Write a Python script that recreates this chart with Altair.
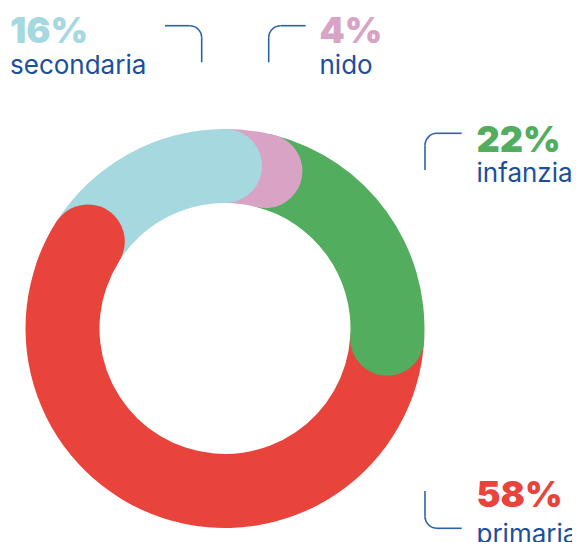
import math
import altair as alt
import pandas as pd

# ---- data ----
categories = ["nido", "infanzia", "primaria", "secondaria"]
values = [4, 22, 58, 16]
colors = ["#d9a3c6", "#52ad5e", "#e8443c", "#a6d8df"]

# ---- style / layout (chart pixel coords) ----
W, H = 564, 534
CX, CY = 217, 320.5
R_OUT, R_IN = 199.5, 125.5
CAP = (R_OUT - R_IN) / 2
EXT = math.asin(CAP / ((R_OUT + R_IN) / 2))
TEXT_BLUE = "#1b4f9c"
LINE_BLUE = "#2c62ad"

# angular extents from the data
total = sum(values)
starts, ends = [], []
acc = 0.0
for v in values:
    starts.append(acc / total * 2 * math.pi)
    acc += v
    ends.append(acc / total * 2 * math.pi)
idx = {c: i for i, c in enumerate(categories)}

# draw order: primaria, infanzia, nido, secondaria, then primaria end cap on top
pieces = []
for k, c in enumerate(["primaria", "infanzia", "nido", "secondaria"]):
    i = idx[c]
    pieces.append({"piece": k, "cat": c, "t0": starts[i] - EXT, "t1": ends[i] + EXT})
ip = idx["primaria"]
pieces.append({"piece": 4, "cat": "primaria", "t0": ends[ip] - 2 * EXT, "t1": ends[ip] + EXT})
arc_df = pd.DataFrame(pieces)

color_scale = alt.Scale(domain=categories, range=colors)

layers = []
for k in range(len(pieces)):
    layers.append(
        alt.Chart(arc_df)
        .transform_filter(alt.datum.piece == k)
        .mark_arc(outerRadius=R_OUT, innerRadius=R_IN, cornerRadius=CAP)
        .encode(
            theta=alt.Theta("t0:Q", scale=None),
            theta2="t1:Q",
            color=alt.Color("cat:N", scale=color_scale, legend=None),
            x=alt.value(CX),
            y=alt.value(CY),
        )
    )

# ---- labels ----
label_pos = {
    "secondaria": (2, 35.3, 66),
    "nido": (311.5, 35.3, 66),
    "infanzia": (468.5, 143.7, 174.3),
    "primaria": (468.5, 499.3, 535),
}
lab_df = pd.DataFrame(
    [
        {
            "cat": c,
            "pct": f"{v}%",
            "x": label_pos[c][0],
            "yp": label_pos[c][1],
            "yl": label_pos[c][2],
        }
        for c, v in zip(categories, values)
    ]
)

pct_text = (
    alt.Chart(lab_df)
    .mark_text(align="left", baseline="alphabetic", font="Inter", fontSize=36, fontWeight=900)
    .encode(
        x=alt.X("x:Q", scale=None),
        y=alt.Y("yp:Q", scale=None),
        text="pct:N",
        color=alt.Color("cat:N", scale=color_scale, legend=None),
    )
)
name_text = (
    alt.Chart(lab_df)
    .mark_text(align="left", baseline="alphabetic", font="Inter", fontSize=26, color=TEXT_BLUE)
    .encode(
        x=alt.X("x:Q", scale=None),
        y=alt.Y("yl:Q", scale=None),
        text="cat:N",
    )
)

# ---- leader lines (decoration) ----
rules = pd.DataFrame(
    [
        {"x": 157, "x2": 181.7, "y": 17.7, "y2": 17.7},
        {"x": 193.7, "x2": 193.7, "y": 29.7, "y2": 54.3},
        {"x": 272.7, "x2": 297.7, "y": 17.7, "y2": 17.7},
        {"x": 260.7, "x2": 260.7, "y": 29.7, "y2": 54.3},
        {"x": 429, "x2": 453.7, "y": 125.3, "y2": 125.3},
        {"x": 417, "x2": 417, "y": 137.3, "y2": 162},
        {"x": 417, "x2": 417, "y": 483, "y2": 508.3},
        {"x": 429, "x2": 453.7, "y": 520.3, "y2": 520.3},
    ]
)
rule_layer = (
    alt.Chart(rules)
    .mark_rule(color=LINE_BLUE, strokeWidth=1.6)
    .encode(
        x=alt.X("x:Q", scale=None),
        x2="x2:Q",
        y=alt.Y("y:Q", scale=None),
        y2="y2:Q",
    )
)
corners = pd.DataFrame(
    [
        {"x": 181.7, "y": 29.7, "a0": 0.0, "a1": math.pi / 2},
        {"x": 272.7, "y": 29.7, "a0": 1.5 * math.pi, "a1": 2 * math.pi},
        {"x": 429, "y": 137.3, "a0": 1.5 * math.pi, "a1": 2 * math.pi},
        {"x": 429, "y": 508.3, "a0": math.pi, "a1": 1.5 * math.pi},
    ]
)
corner_layer = (
    alt.Chart(corners)
    .mark_arc(outerRadius=12, innerRadius=12, filled=False, stroke=LINE_BLUE, strokeWidth=1.6)
    .encode(
        x=alt.X("x:Q", scale=None),
        y=alt.Y("y:Q", scale=None),
        theta=alt.Theta("a0:Q", scale=None),
        theta2="a1:Q",
    )
)

chart = (
    alt.layer(*layers, rule_layer, corner_layer, pct_text, name_text)
    .properties(width=W, height=H, padding=0, autosize="none", background="white")
    .configure_view(stroke=None)
)

chart.save("out.html", embed_options={"renderer": "svg", "actions": False})
